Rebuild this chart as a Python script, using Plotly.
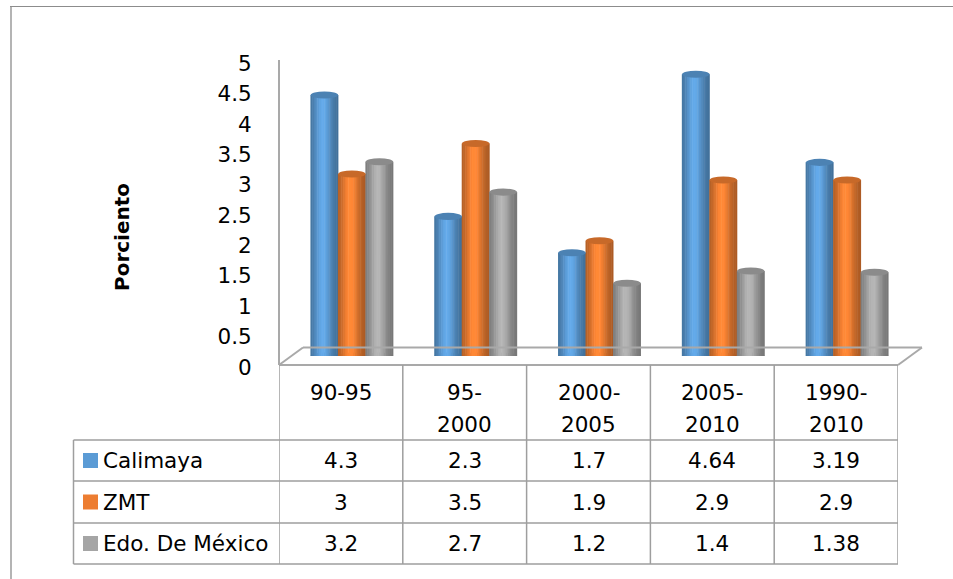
import math
import plotly.graph_objects as go

# ---- data -------------------------------------------------------------
periodos = ["90-95", "95-2000", "2000-2005", "2005-2010", "1990-2010"]
encabezados = [["90-95"], ["95-", "2000"], ["2000-", "2005"], ["2005-", "2010"], ["1990-", "2010"]]

calimaya = [4.3, 2.3, 1.7, 4.64, 3.19]
zmt = [3, 3.5, 1.9, 2.9, 2.9]
edomex = [3.2, 2.7, 1.2, 1.4, 1.38]

nombres = ["Calimaya", "ZMT", "Edo. De México"]
colores = ["#5B9BD5", "#ED7D31", "#A5A5A5"]
series = [calimaya, zmt, edomex]

ticks_y = [0, 0.5, 1, 1.5, 2, 2.5, 3, 3.5, 4, 4.5, 5]

# ---- geometry helpers (pixels -> paper) ------------------------------
W, H = 953, 579


def px(x):
    return x / W


def py(y):
    return 1 - y / H


FONT = "DejaVu Sans"
GRID = "#A9A9A9"
TABLE = "#9E9E9E"
TXT = dict(family=FONT, size=21.5, color="#000000")

n = len(periodos)
w = 0.222          # cylinder width in category units
N = 16             # vertical strips used to shade each cylinder
eh = 0.058         # half height of the cylinder caps, in value units


def hex_rgb(c):
    c = c.lstrip("#")
    return [int(c[i:i + 2], 16) for i in (0, 2, 4)]


def scale(c, f):
    r, g, b = hex_rgb(c)
    return "rgb({},{},{})".format(*[max(0, min(255, int(round(v * f)))) for v in (r, g, b)])


def shade(t):
    # light band slightly left of centre, darker rims
    return 0.70 + 0.40 * math.exp(-((t - 0.45) / 0.32) ** 2)


fig = go.Figure()
shapes = []

for j, (vals, col) in enumerate(zip(series, colores)):
    off = (j - 1) * w
    xs, ys, cs = [], [], []
    for k in range(N):
        t = (k + 0.5) / N
        for i, v in enumerate(vals):
            xs.append(i + off - w / 2 + t * w)
            ys.append(v)
            cs.append(scale(col, shade(t)))
    fig.add_trace(go.Bar(
        x=xs, y=ys, width=w / N + 0.004,
        marker=dict(color=cs, line=dict(width=0)),
        xaxis="x2", yaxis="y2", hoverinfo="skip", showlegend=False,
    ))
    for i, v in enumerate(vals):
        # top cap
        shapes.append(dict(type="circle", xref="x2", yref="y2", layer="above",
                           x0=i + off - w / 2, x1=i + off + w / 2,
                           y0=v - eh, y1=v + eh,
                           fillcolor=scale(col, 0.84), line=dict(width=0)))
        # rounded base
        shapes.append(dict(type="circle", xref="x2", yref="y2", layer="below",
                           x0=i + off - w / 2, x1=i + off + w / 2,
                           y0=-eh, y1=eh,
                           fillcolor=scale(col, 0.92), line=dict(width=0)))

# ---- floor and value axis line ---------------------------------------
fx0, fx1, fy = 279, 898, 365
dx, dy = 24, -17.5
floor = [
    (fx0, fy, fx1, fy),
    (fx0 + dx, fy + dy, fx1 + dx, fy + dy),
    (fx0, fy, fx0 + dx, fy + dy),
    (fx1, fy, fx1 + dx, fy + dy),
    (fx0, 60, fx0, fy),
]
for x0, y0, x1, y1 in floor:
    shapes.append(dict(type="line", xref="paper", yref="paper",
                       x0=px(x0), y0=py(y0), x1=px(x1), y1=py(y1),
                       line=dict(color=GRID, width=2)))

# ---- data table ------------------------------------------------------
tab_left = 73.5
row_lines = [440, 481, 523, 564]
for yy in row_lines:
    shapes.append(dict(type="line", xref="paper", yref="paper",
                       x0=px(tab_left), x1=px(fx1), y0=py(yy), y1=py(yy),
                       line=dict(color=TABLE, width=1.5)))
shapes.append(dict(type="line", xref="paper", yref="paper",
                   x0=px(tab_left), x1=px(tab_left), y0=py(row_lines[0]), y1=py(row_lines[-1]),
                   line=dict(color=TABLE, width=1.5)))
for b in range(n + 1):
    shapes.append(dict(type="line", xref="x", yref="paper",
                       x0=b - 0.5, x1=b - 0.5, y0=py(fy), y1=py(row_lines[-1]),
                       line=dict(color=TABLE, width=1.5)))

annotations = []
for i, lines in enumerate(encabezados):
    for r, txt in enumerate(lines):
        annotations.append(dict(xref="x", yref="paper", x=i, y=py(392 + 32 * r),
                                xanchor="center", yanchor="middle",
                                text=txt, showarrow=False, font=TXT))

row_centers = [460.5, 502, 543.5]
for r, (nombre, col, vals) in enumerate(zip(nombres, colores, series)):
    yc = row_centers[r]
    shapes.append(dict(type="rect", xref="paper", yref="paper",
                       x0=px(83), x1=px(98), y0=py(yc - 7.5), y1=py(yc + 7.5),
                       fillcolor=col, line=dict(width=0)))
    annotations.append(dict(xref="paper", yref="paper", x=px(101), y=py(yc),
                            xanchor="left", yanchor="middle",
                            text=nombre, showarrow=False, font=TXT))
    for i, v in enumerate(vals):
        annotations.append(dict(xref="x", yref="paper", x=i, y=py(yc),
                                xanchor="center", yanchor="middle",
                                text=f"{v:g}", showarrow=False, font=TXT))

annotations.append(dict(xref="paper", yref="paper", x=px(122), y=py(237),
                        xanchor="center", yanchor="middle",
                        text="<b>Porciento</b>", textangle=-90, showarrow=False,
                        font=dict(family=FONT, size=20, color="#000000")))

# ---- chart area border -----------------------------------------------
shapes.append(dict(type="line", xref="paper", yref="paper",
                   x0=px(11), x1=px(11), y0=py(6), y1=0,
                   line=dict(color="#B4B4B4", width=2)))
shapes.append(dict(type="line", xref="paper", yref="paper",
                   x0=px(10), x1=1, y0=py(6.5), y1=py(6.5),
                   line=dict(color="#8C8C8C", width=1)))

axis_off = dict(showgrid=False, zeroline=False, showline=False,
                showticklabels=False, ticks="", automargin=False)

fig.update_layout(
    width=W, height=H,
    margin=dict(l=0, r=0, t=0, b=0, pad=0, autoexpand=False),
    paper_bgcolor="white", plot_bgcolor="rgba(0,0,0,0)",
    barmode="overlay", showlegend=False,
    xaxis=dict(domain=[px(fx0), px(fx1)], range=[-0.5, n - 0.5], **axis_off),
    yaxis=dict(domain=[py(367), py(63.5)], range=[0, 5], anchor="x",
               tickvals=ticks_y, ticktext=[f"{t:g}" for t in ticks_y],
               ticks="outside", ticklen=22, tickcolor="rgba(0,0,0,0)",
               tickfont=TXT, automargin=False,
               showgrid=False, zeroline=False, showline=False),
    xaxis2=dict(domain=[px(fx0 + 11), px(fx1 + 11)], range=[-0.5, n - 0.5],
                anchor="y2", **axis_off),
    yaxis2=dict(domain=[py(356), py(356 - 303.5)], range=[0, 5],
                anchor="x2", **axis_off),
    shapes=shapes,
    annotations=annotations,
)

fig.write_html("out.html")
